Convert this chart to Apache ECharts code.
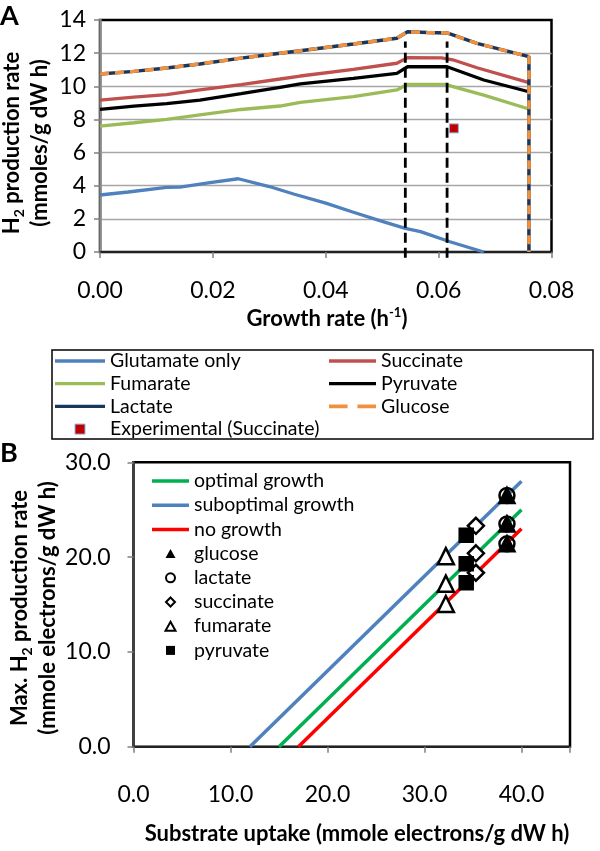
<!DOCTYPE html>
<html><head><meta charset="utf-8">
<script src="https://cdn.jsdelivr.net/npm/echarts@6/dist/echarts.min.js"></script>
<style>html,body{margin:0;padding:0;background:#fff}#c{width:600px;height:851px}</style>
</head><body><div id="c"></div>
<script>
// ---------- Panel A: H2 production rate vs growth rate ----------
const glutamateOnly = [[0,3.44],[0.005,3.62],[0.0118,3.9],[0.0142,3.92],[0.0195,4.18],[0.0245,4.42],[0.03,3.95],[0.0343,3.5],[0.04,2.95],[0.0449,2.4],[0.05,1.85],[0.0541,1.43],[0.0568,1.23],[0.062,0.62],[0.068,0]];
const succinate = [[0,9.17],[0.006,9.35],[0.0118,9.5],[0.0177,9.78],[0.025,10.1],[0.0319,10.44],[0.0355,10.62],[0.0449,11.02],[0.0526,11.39],[0.0545,11.73],[0.0605,11.72],[0.0625,11.6],[0.0668,11.12],[0.076,10.22]];
const fumarate = [[0,7.6],[0.006,7.8],[0.0118,8.0],[0.0177,8.27],[0.025,8.6],[0.0319,8.81],[0.0355,9.03],[0.0449,9.37],[0.0526,9.78],[0.0545,10.12],[0.0611,10.12],[0.068,9.47],[0.076,8.63]];
const pyruvate = [[0,8.61],[0.006,8.8],[0.0118,8.95],[0.0177,9.17],[0.025,9.55],[0.0319,9.94],[0.0355,10.14],[0.0449,10.48],[0.0526,10.78],[0.0545,11.18],[0.0615,11.18],[0.068,10.38],[0.076,9.67]];
const lactate = [[0,10.74],[0.006,10.9],[0.0118,11.1],[0.0177,11.35],[0.025,11.7],[0.0319,12.0],[0.0355,12.15],[0.0449,12.55],[0.0526,12.9],[0.0545,13.29],[0.058,13.24],[0.0615,13.22],[0.0668,12.59],[0.076,11.79],[0.076,0]];
const glucose = [[0,10.74],[0.006,10.9],[0.0118,11.1],[0.0177,11.35],[0.025,11.7],[0.0319,12.0],[0.0355,12.15],[0.0449,12.55],[0.0526,12.9],[0.0545,13.29],[0.058,13.24],[0.0615,13.22],[0.0668,12.59],[0.076,11.79],[0.076,0]];
const experimentalSuccinate = [[0.0627,7.46]];
const optimalWindowX = [0.0541, 0.0615];
const optimalWindowY = [-0.35, 12.7];
const growthAxis = {min:0, max:0.08, interval:0.02};
const h2AxisA = {min:0, max:14, interval:2};

// ---------- Panel B: max H2 production vs substrate uptake ----------
const optimalGrowth = [[15,0],[40,25]];
const suboptimalGrowth = [[12,0],[40,28]];
const noGrowth = [[17,0],[40,23]];
const glucoseB = [[38.5,26.5],[38.5,23.5],[38.5,21.4]];
const lactateB = [[38.5,26.5],[38.5,23.5],[38.5,21.4]];
const succinateB = [[35.3,23.3],[35.3,20.4],[35.3,18.35]];
const fumarateB = [[32.2,20.1],[32.2,17.2],[32.2,15.05]];
const pyruvateB = [[34.3,22.3],[34.3,19.3],[34.3,17.3]];
const uptakeAxis = {min:0, max:45, interval:10, lastLabel:40};
const h2AxisB = {min:0, max:30, interval:10};

const FF = 'Lato, "Open Sans", sans-serif';
const C = {glut:'#4F81BD', succ:'#C0504D', fum:'#9BBB59', pyr:'#000000', lac:'#17375E', glc:'#F0913F', exp:'#C00000',
           opt:'#00B050', sub:'#4F81BD', none:'#FF0000'};
const chart = echarts.init(document.getElementById('c'), null, {renderer:'canvas'});

function lineSeries(name, data, color, extra) {
  return Object.assign({
    name, type:'line', data, xAxisIndex:0, yAxisIndex:0, symbol:'none', showSymbol:false,
    lineStyle:{color, width:3.3}, itemStyle:{color}, emphasis:{disabled:true}
  }, extra || {});
}
function lineSeriesB(name, data, color) {
  return {name, type:'line', data, xAxisIndex:1, yAxisIndex:1, symbol:'none', showSymbol:false,
    lineStyle:{color, width:3.5}, itemStyle:{color}, emphasis:{disabled:true}, z:2};
}
function scatterB(name, data, symbol, size, fill, z) {
  return {name, type:'scatter', data, xAxisIndex:1, yAxisIndex:1, symbol, symbolSize:size,
    itemStyle:{color:fill, borderColor:'#000', borderWidth:2.5, opacity:1}, emphasis:{disabled:true}, z};
}
const bar = (w, h) => `path://M0,0 H${w} V${h} H0 Z`;
const legLine = (name, w, h, color) => ({name, icon:bar(w,h), itemStyle:{color, borderWidth:0, opacity:1}});
const legMark = (name, path, fill, bw) => ({name, icon:path, itemStyle:{color:fill, borderColor:'#000', borderWidth:bw, opacity:1}});
const TRI = 'path://M5,0 L10,9 L0,9 Z';
const CIRC = 'path://M5,0 A5,5 0 1 1 4.99,0 Z';
const DIA = 'path://M5,0 L10,5 L5,10 L0,5 Z';
const SQ = 'path://M0,0 H10 V10 H0 Z';

const tickStyle = {show:true, length:6, lineStyle:{color:'#808080', width:1.5}};
const labelBase = {fontFamily:FF, fontSize:23, color:'#000'};
const legText = {fontFamily:FF, fontSize:19.5, lineHeight:20, color:'#000'};

const option = {
  animation:false,
  backgroundColor:'#fff',
  grid:[
    {left:100, top:20, width:451.5, height:232, show:true, borderColor:'#000', borderWidth:2.5, containLabel:false},
    {left:133.5, top:462.3, width:436.5, height:284.4, show:true, borderColor:'#000', borderWidth:2.5, containLabel:false}
  ],
  xAxis:[
    {type:'value', gridIndex:0, min:growthAxis.min, max:growthAxis.max, interval:growthAxis.interval,
      axisLine:{show:true, onZero:false, lineStyle:{color:'#222', width:2}}, axisTick:tickStyle,
      axisLabel:Object.assign({margin:27, formatter:v=>v.toFixed(2)}, labelBase), splitLine:{show:false}},
    {type:'value', gridIndex:1, min:uptakeAxis.min, max:uptakeAxis.max, interval:uptakeAxis.interval,
      axisLine:{show:true, onZero:false, lineStyle:{color:'#222', width:2}}, axisTick:tickStyle,
      axisLabel:Object.assign({margin:36, formatter:v=> v > uptakeAxis.lastLabel + 0.5 ? '' : v.toFixed(1)}, labelBase), splitLine:{show:false}}
  ],
  yAxis:[
    {type:'value', gridIndex:0, min:h2AxisA.min, max:h2AxisA.max, interval:h2AxisA.interval,
      axisLine:{show:true, onZero:false, lineStyle:{color:'#8a8a8a', width:2.5}}, axisTick:tickStyle,
      axisLabel:Object.assign({margin:14, formatter:v=>String(v)}, labelBase),
      splitLine:{show:true, showMinLine:false, showMaxLine:false, lineStyle:{color:'#a6a6a6', width:1.3}}},
    {type:'value', gridIndex:1, min:h2AxisB.min, max:h2AxisB.max, interval:h2AxisB.interval,
      axisLine:{show:true, onZero:false, lineStyle:{color:'#404040', width:2.5}}, axisTick:tickStyle,
      axisLabel:Object.assign({margin:23, formatter:v=>v.toFixed(1)}, labelBase), splitLine:{show:false}}
  ],
  legend:[
    {left:55, top:351, orient:'vertical', itemWidth:50, itemHeight:10, itemGap:2.7, padding:0, symbolKeepAspect:true,
      textStyle:legText, selectedMode:false,
      data:[legLine('Glutamate only',50,3.3,C.glut), legLine('Fumarate',50,3.3,C.fum), legLine('Lactate',50,3.3,C.lac),
            {name:'Experimental (Succinate)', icon:SQ, itemStyle:{color:C.exp, borderColor:'#95B3D7', borderWidth:1, opacity:1}}]},
    {left:329, top:351, orient:'vertical', itemWidth:47, itemHeight:10, itemGap:2.7, padding:0, symbolKeepAspect:true,
      textStyle:legText, selectedMode:false,
      data:[legLine('Succinate',47,3.3,C.succ), legLine('Pyruvate',47,3.3,C.pyr),
            {name:'Glucose', icon:'path://M0,0 H17 V3.5 H0 Z M26,0 H43 V3.5 H26 Z', itemStyle:{color:C.glc, borderWidth:0, opacity:1}}]},
    {left:152, top:471, orient:'vertical', itemWidth:37, itemHeight:9, itemGap:4.2, padding:0, symbolKeepAspect:true,
      textStyle:legText, selectedMode:false,
      data:[legLine('optimal growth',37,3.5,C.opt), legLine('suboptimal growth',37,3.5,C.sub), legLine('no growth',37,3.5,C.none),
            legMark('glucose',TRI,'#000',0), legMark('lactate',CIRC,'#fff',2), legMark('succinate',DIA,'#fff',2),
            legMark('fumarate',TRI,'#fff',2), legMark('pyruvate',SQ,'#000',0)]}
  ],
  series:[
    lineSeries('Glutamate only', glutamateOnly, C.glut),
    lineSeries('Fumarate', fumarate, C.fum),
    lineSeries('Pyruvate', pyruvate, C.pyr),
    lineSeries('Succinate', succinate, C.succ),
    lineSeries('Lactate', lactate, C.lac, {lineStyle:{color:C.lac, width:3.5}}),
    lineSeries('Glucose', glucose, C.glc, {lineStyle:{color:C.glc, width:3.5, type:[9,6]}}),
    {name:'Experimental (Succinate)', type:'scatter', data:experimentalSuccinate, xAxisIndex:0, yAxisIndex:0,
      symbol:'rect', symbolSize:9, itemStyle:{color:C.exp, borderColor:'#95B3D7', borderWidth:1, opacity:1}, emphasis:{disabled:true}, z:5},
    lineSeries('window1', optimalWindowY.map(y=>[optimalWindowX[0], y]), '#000', {lineStyle:{color:'#000', width:2.8, type:[10,5]}, clip:false, z:4}),
    lineSeries('window2', optimalWindowY.map(y=>[optimalWindowX[1], y]), '#000', {lineStyle:{color:'#000', width:2.8, type:[10,5]}, clip:false, z:4}),
    lineSeriesB('optimal growth', optimalGrowth, C.opt),
    lineSeriesB('suboptimal growth', suboptimalGrowth, C.sub),
    lineSeriesB('no growth', noGrowth, C.none),
    scatterB('glucose', glucoseB, 'triangle', 15, '#000', 3),
    scatterB('lactate', lactateB, 'circle', 15, 'rgba(255,255,255,0)', 4),
    scatterB('succinate', succinateB, 'diamond', 16, '#fff', 3),
    scatterB('fumarate', fumarateB, 'triangle', 16, '#fff', 3),
    scatterB('pyruvate', pyruvateB, 'rect', 13, '#000', 3)
  ],
  graphic:[
    {type:'rect', shape:{x:52, y:350, width:541, height:89}, style:{fill:'none', stroke:'#000', lineWidth:1.5}, z:-1},
    {type:'text', x:0, y:16, style:{text:'A', fontFamily:FF, fontWeight:'bold', fontSize:27, fill:'#000', align:'left', verticalAlign:'middle'}},
    {type:'text', x:0, y:453, style:{text:'B', fontFamily:FF, fontWeight:'bold', fontSize:27, fill:'#000', align:'left', verticalAlign:'middle'}},
    {type:'text', x:327, y:319, style:{text:'Growth rate (h{sup|-1})', fontFamily:FF, fontWeight:'bold', fontSize:22, lineHeight:26, fill:'#000', align:'center', verticalAlign:'middle',
      rich:{sup:{fontFamily:FF, fontWeight:'bold', fontSize:13, lineHeight:13, verticalAlign:'top', fill:'#000'}}}},
    {type:'text', x:357, y:834, style:{text:'Substrate uptake (mmole electrons/g dW h)', fontFamily:FF, fontWeight:'bold', fontSize:22, fill:'#000', align:'center', verticalAlign:'middle'}},
    {type:'text', x:26, y:143, rotation:Math.PI/2, style:{text:'H{sub|2} production rate\n(mmoles/g dW h)', fontFamily:FF, fontWeight:'bold', fontSize:22, lineHeight:28, fill:'#000', align:'center', verticalAlign:'middle',
      rich:{sub:{fontFamily:FF, fontWeight:'bold', fontSize:14, lineHeight:14, verticalAlign:'bottom', fill:'#000'}}}},
    {type:'text', x:34, y:608, rotation:Math.PI/2, style:{text:'Max. H{sub|2} production rate\n(mmole electrons/g dW h)', fontFamily:FF, fontWeight:'bold', fontSize:22, lineHeight:28, fill:'#000', align:'center', verticalAlign:'middle',
      rich:{sub:{fontFamily:FF, fontWeight:'bold', fontSize:14, lineHeight:14, verticalAlign:'bottom', fill:'#000'}}}}
  ]
};
chart.setOption(option);
</script></body></html>
